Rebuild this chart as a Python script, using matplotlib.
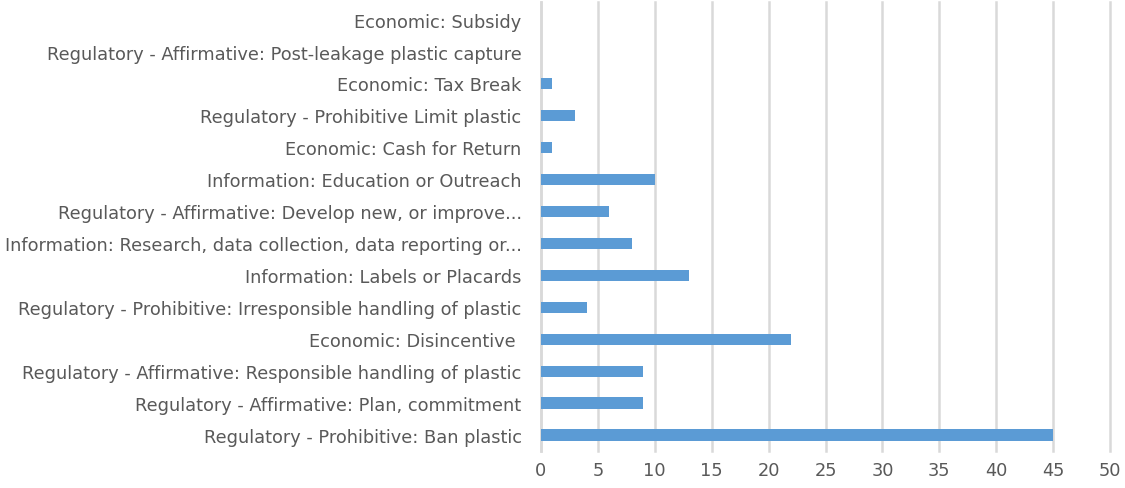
import matplotlib
matplotlib.use('Agg')
import matplotlib.pyplot as plt

# Policy instruments, top to bottom as shown in the chart
categories = [
    'Economic: Subsidy',
    'Regulatory - Affirmative: Post-leakage plastic capture',
    'Economic: Tax Break',
    'Regulatory - Prohibitive Limit plastic',
    'Economic: Cash for Return',
    'Information: Education or Outreach',
    'Regulatory - Affirmative: Develop new, or improve...',
    'Information: Research, data collection, data reporting or...',
    'Information: Labels or Placards',
    'Regulatory - Prohibitive: Irresponsible handling of plastic',
    'Economic: Disincentive ',
    'Regulatory - Affirmative: Responsible handling of plastic',
    'Regulatory - Affirmative: Plan, commitment',
    'Regulatory - Prohibitive: Ban plastic',
]
counts = [0, 0, 1, 3, 1, 10, 6, 8, 13, 4, 22, 9, 9, 45]
x_ticks = [0, 5, 10, 15, 20, 25, 30, 35, 40, 45, 50]

plt.rcParams['font.family'] = ['DejaVu Sans']
text_color = '#595959'

fig = plt.figure(figsize=(11.25, 4.89), dpi=100)
ax = fig.add_axes([541 / 1125, 1 - 452 / 489, (1110 - 541) / 1125, (452 - 3) / 489])

# reverse so first category ends up at the top
ypos = list(range(len(categories)))[::-1]
ax.barh(ypos, counts, height=0.35, color='#5B9BD5', zorder=3)

ax.set_xlim(0, 50)
ax.set_ylim(-0.5, len(categories) - 0.45)
ax.set_xticks(x_ticks)
ax.set_yticks(ypos)
ax.set_yticklabels(categories)
ax.xaxis.grid(True, color='#D9D9D9', linewidth=1.8, zorder=0)
for gl in ax.get_xgridlines():
    gl.set_clip_on(False)
ax.set_axisbelow(True)

for s in ['top', 'right', 'bottom']:
    ax.spines[s].set_visible(False)
ax.spines['left'].set_color('#D9D9D9')
ax.spines['left'].set_linewidth(1.8)

ax.tick_params(axis='y', length=0, pad=14, labelsize=12.8, labelcolor=text_color)
ax.tick_params(axis='x', length=0, pad=7, labelsize=12.8, labelcolor=text_color)

fig.savefig('out.png', dpi=100)
